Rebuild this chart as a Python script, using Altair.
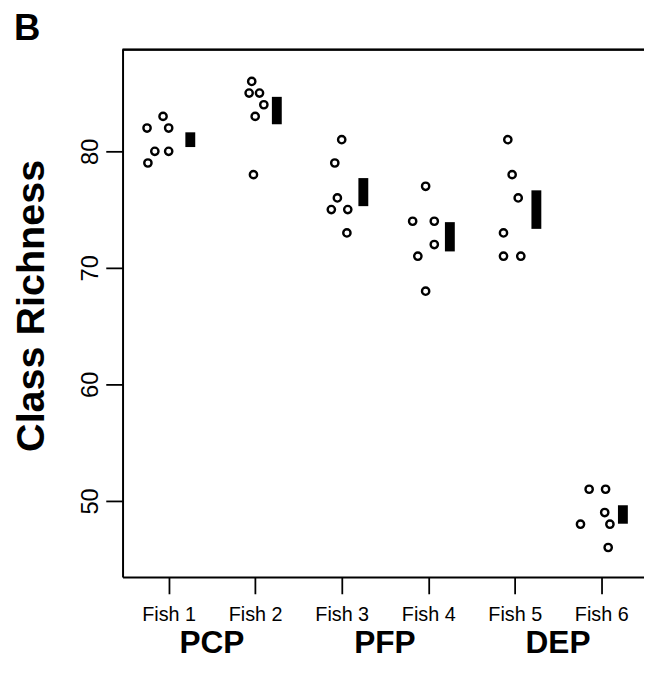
import altair as alt
import pandas as pd

# ---- data ----
fish_names = ["Fish 1", "Fish 2", "Fish 3", "Fish 4", "Fish 5", "Fish 6"]
fish_pos = [1, 2, 3, 4, 5, 6]

fish1_richness = [82, 83, 82, 80, 80, 79]
fish2_richness = [86, 85, 85, 84, 83, 78]
fish3_richness = [81, 79, 76, 75, 75, 73]
fish4_richness = [77, 74, 74, 72, 71, 68]
fish5_richness = [81, 78, 76, 73, 71, 71]
fish6_richness = [51, 51, 49, 48, 48, 46]

# horizontal jitter of each replicate (in category units)
fish1_jitter = [-0.25, -0.065, 0.0, -0.16, 0.0, -0.24]
fish2_jitter = [-0.04, -0.07, 0.05, 0.10, 0.0, -0.02]
fish3_jitter = [0.0, -0.08, -0.05, -0.12, 0.07, 0.06]
fish4_jitter = [-0.03, -0.18, 0.07, 0.07, -0.12, -0.03]
fish5_jitter = [-0.08, -0.03, 0.04, -0.13, -0.13, 0.07]
fish6_jitter = [-0.14, 0.05, 0.04, -0.24, 0.10, 0.08]

group_names = ["PCP", "PFP", "DEP"]
group_pos = [1.5, 3.5, 5.5]

y_ticks = [50, 60, 70, 80]

# ---- build tables ----
all_rich = [fish1_richness, fish2_richness, fish3_richness,
            fish4_richness, fish5_richness, fish6_richness]
all_jit = [fish1_jitter, fish2_jitter, fish3_jitter,
           fish4_jitter, fish5_jitter, fish6_jitter]

rows = []
for name, pos, ys, js in zip(fish_names, fish_pos, all_rich, all_jit):
    for y, j in zip(ys, js):
        rows.append({"fish": name, "x": pos + j, "y": y})
pts = pd.DataFrame(rows)

BAR_OFFSET = 0.25
summ = []
for name, pos, ys in zip(fish_names, fish_pos, all_rich):
    s = pd.Series(ys)
    m, se = s.mean(), s.std(ddof=1) / len(s) ** 0.5
    summ.append({"fish": name, "x": pos + BAR_OFFSET, "lo": m - se, "hi": m + se})
summ = pd.DataFrame(summ)

groups = pd.DataFrame({"g": group_names, "x": group_pos})

W, H = 528, 534
FONT = "Liberation Sans"

xscale = alt.Scale(domain=[0.467, 6.494], nice=False, zero=False)
yscale = alt.Scale(domain=[43.47, 88.73], nice=False, zero=False)

xaxis = alt.Axis(values=fish_pos, labelExpr="'Fish ' + datum.value", title=None,
                 grid=False, tickSize=17, tickWidth=1.8, tickColor="black",
                 domainColor="black", domainWidth=2, labelFontSize=20,
                 labelFont=FONT, labelColor="black", labelPadding=11)
yaxis = alt.Axis(values=y_ticks, title="Class Richness", grid=False,
                 tickSize=17, tickWidth=1.8, tickColor="black",
                 domainColor="black", domainWidth=2, labelFontSize=24,
                 labelFont=FONT, labelColor="black", labelAngle=270,
                 labelAlign="center", labelBaseline="alphabetic", labelPadding=8,
                 titleFont=FONT, titleFontSize=40, titleFontWeight="bold",
                 titleColor="black", titleBaseline="alphabetic",
                 titleX=-80, titleY=259, titleAngle=270)

points = alt.Chart(pts).mark_point(shape="circle", filled=False, size=55,
                                   strokeWidth=2.4, color="black", opacity=1).encode(
    x=alt.X("x:Q", scale=xscale, axis=xaxis),
    y=alt.Y("y:Q", scale=yscale, axis=yaxis),
)

bars = alt.Chart(summ).mark_rule(strokeWidth=10, color="black", strokeCap="butt").encode(
    x=alt.X("x:Q", scale=xscale),
    y=alt.Y("lo:Q", scale=yscale),
    y2="hi:Q",
)

top_border = alt.Chart(groups).mark_rule(color="black", strokeWidth=2).encode(
    x=alt.value(0), x2=alt.value(W), y=alt.value(0)
)

group_text = alt.Chart(groups).mark_text(font=FONT, fontSize=32, fontWeight="bold",
                                         color="black", baseline="alphabetic").encode(
    x=alt.X("x:Q", scale=xscale),
    y=alt.value(H + 77),
    text="g:N",
)

panel_letter = alt.Chart(groups.head(1)).mark_text(font=FONT, fontSize=37, fontWeight="bold",
                                                   color="black", align="left",
                                                   baseline="alphabetic").encode(
    x=alt.value(-110), y=alt.value(-10), text=alt.value("B")
)

chart = alt.layer(points, bars, top_border, group_text, panel_letter).properties(
    width=W, height=H,
    padding={"left": 116, "top": 38, "right": 0, "bottom": 86},
    autosize=alt.AutoSizeParams(type="none"),
).configure_view(stroke=None).configure(background="white")

chart.save("out.html", embed_options={"renderer": "svg", "actions": False})
